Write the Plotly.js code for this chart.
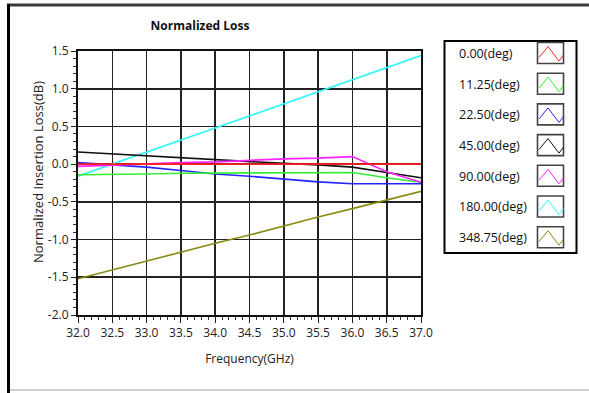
<!DOCTYPE html>
<html>
<head>
<meta charset="utf-8">
<script src="https://cdn.plot.ly/plotly-3.0.1.min.js"></script>
<style>html,body{margin:0;padding:0;background:#fff;}#chart{width:589px;height:393px;}</style>
</head>
<body>
<div id="chart"></div>
<script>
// Data
const freq = [32.0, 32.5, 33.0, 33.5, 34.0, 34.5, 35.0, 35.5, 36.0, 36.5, 37.0];
const seriesNames = ['0.00(deg)', '11.25(deg)', '22.50(deg)', '45.00(deg)', '90.00(deg)', '180.00(deg)', '348.75(deg)'];
const loss_0_00   = [0.00, 0.00, 0.00, 0.00, 0.00, 0.00, 0.00, 0.00, 0.00, 0.00, 0.00];
const loss_11_25  = [-0.14, -0.14, -0.13, -0.12, -0.12, -0.12, -0.11, -0.11, -0.11, -0.18, -0.24];
const loss_22_50  = [0.02, -0.01, -0.04, -0.085, -0.13, -0.16, -0.20, -0.235, -0.26, -0.26, -0.26];
const loss_45_00  = [0.16, 0.135, 0.11, 0.08, 0.055, 0.03, 0.01, -0.01, -0.04, -0.11, -0.18];
const loss_90_00  = [-0.03, -0.01, 0.01, 0.02, 0.03, 0.05, 0.07, 0.08, 0.10, -0.10, -0.24];
const loss_180_00 = [-0.16, 0.00, 0.16, 0.32, 0.48, 0.64, 0.80, 0.96, 1.12, 1.28, 1.44];
const loss_348_75 = [-1.52, -1.40, -1.29, -1.17, -1.05, -0.94, -0.82, -0.70, -0.59, -0.47, -0.36];
const seriesValues = [loss_0_00, loss_11_25, loss_22_50, loss_45_00, loss_90_00, loss_180_00, loss_348_75];
const seriesColors = ['#ff2020', '#33ee33', '#2424ff', '#111111', '#ff22ff', '#30f8f8', '#8a8a12'];
const xTickVals = [32.0, 32.5, 33.0, 33.5, 34.0, 34.5, 35.0, 35.5, 36.0, 36.5, 37.0];
const xTickText = ['32.0', '32.5', '33.0', '33.5', '34.0', '34.5', '35.0', '35.5', '36.0', '36.5', '37.0'];
const yTickVals = [-2.0, -1.5, -1.0, -0.5, 0.0, 0.5, 1.0, 1.5];
const yTickText = ['-2.0', '-1.5', '-1.0', '-0.5', '0.0', '0.5', '1.0', '1.5'];
const chartTitle = 'Normalized Loss';
const xTitle = 'Frequency(GHz)';
const yTitle = 'Normalized Insertion Loss(dB)';

// plot area geometry (pixels)
const W = 589, H = 393;
const L = 78, R = 421, T = 51, B = 315;
const px2x = p => (p - L) / (R - L);
const py2y = p => (B - p) / (B - T);

const FONT = 'Open Sans, Noto Sans, sans-serif';

// draw order so that red sits on top like in the reference
const drawOrder = [6, 5, 2, 1, 3, 4, 0];
const traces = drawOrder.map(i => ({
  x: freq, y: seriesValues[i], type: 'scatter', mode: 'lines',
  name: seriesNames[i], showlegend: false,
  line: {color: seriesColors[i], width: 1.6}
}));

const shapes = [];
const annotations = [];
// outer frame
shapes.push({type: 'line', xref: 'paper', yref: 'paper', x0: px2x(7), x1: px2x(589), y0: py2y(5), y1: py2y(5), line: {color: '#3a3a3a', width: 3}});
shapes.push({type: 'line', xref: 'paper', yref: 'paper', x0: px2x(8.5), x1: px2x(8.5), y0: py2y(4), y1: py2y(393), line: {color: '#000', width: 3}});
shapes.push({type: 'line', xref: 'paper', yref: 'paper', x0: px2x(10), x1: px2x(589), y0: py2y(390), y1: py2y(390), line: {color: '#d0d0d0', width: 2}});
// y axis title (placed as in the reference, slightly above plot centre)
annotations.push({xref: 'paper', yref: 'paper', x: px2x(38), y: py2y(172), xanchor: 'center', yanchor: 'middle',
  text: yTitle, textangle: -90, showarrow: false, font: {family: FONT, size: 13, color: '#222'}});
// legend box
shapes.push({type: 'rect', xref: 'paper', yref: 'paper', x0: px2x(444.5), x1: px2x(576.5), y0: py2y(41), y1: py2y(253), line: {color: '#000', width: 2}, fillcolor: 'rgba(0,0,0,0)'});
const rowTop = 42.5, rowStep = 30.7;
seriesNames.forEach((nm, i) => {
  const top = rowTop + i * rowStep;
  const cy = top + 10.5;
  annotations.push({xref: 'paper', yref: 'paper', x: px2x(457), y: py2y(cy + 0.5), xanchor: 'left', yanchor: 'middle',
    text: nm, showarrow: false, font: {family: FONT, size: 12.5, color: '#111'}});
  const bx0 = 537.5, bx1 = 563.5, by0 = top, by1 = top + 21;
  shapes.push({type: 'rect', xref: 'paper', yref: 'paper', x0: px2x(bx0), x1: px2x(bx1), y0: py2y(by0), y1: py2y(by1),
    line: {color: '#444', width: 1.6}, fillcolor: '#fff'});
  const pts = [[bx0 + 1.5, by0 + 15], [bx0 + 10.5, by0 + 4], [bx0 + 21.5, by0 + 18.5], [bx0 + 26, by0 + 12.5]];
  const path = pts.map((p, k) => (k ? 'L' : 'M') + px2x(p[0]).toFixed(5) + ',' + py2y(p[1]).toFixed(5)).join(' ');
  shapes.push({type: 'path', xref: 'paper', yref: 'paper', path: path, line: {color: seriesColors[i], width: 1}});
});

const layout = {
  width: W, height: H,
  margin: {l: L, r: W - R, t: T, b: H - B, pad: 0},
  paper_bgcolor: '#fff', plot_bgcolor: '#fff',
  showlegend: false,
  font: {family: FONT, size: 12, color: '#222'},
  title: {text: '<b>' + chartTitle + '</b>', font: {family: FONT, size: 12, color: '#111'},
    xref: 'container', yref: 'container', x: 200 / W, xanchor: 'center', y: 1 - 26 / H, yanchor: 'middle'},
  xaxis: {
    range: [32, 37], tickvals: xTickVals, ticktext: xTickText,
    showgrid: true, gridcolor: '#222', gridwidth: 1.6,
    showline: true, linecolor: '#111', linewidth: 2, mirror: true,
    ticks: 'outside', ticklen: 6, tickwidth: 1, tickcolor: '#222',
    minor: {dtick: 0.1, ticks: 'outside', ticklen: 3, tickcolor: '#333', showgrid: false},
    zeroline: false, tickfont: {family: FONT, size: 12, color: '#222'},
    title: {text: xTitle, font: {family: FONT, size: 12, color: '#222'}, standoff: 14}
  },
  yaxis: {
    range: [-2, 1.5], tickvals: yTickVals, ticktext: yTickText,
    showgrid: true, gridcolor: '#222', gridwidth: 1.6,
    showline: true, linecolor: '#111', linewidth: 2, mirror: true,
    ticks: 'outside', ticklen: 5, tickwidth: 1, tickcolor: '#222',
    minor: {dtick: 0.1, ticks: 'outside', ticklen: 3, tickcolor: '#333', showgrid: false},
    zeroline: false, tickfont: {family: FONT, size: 12, color: '#222'}
  },
  shapes: shapes,
  annotations: annotations
};

Plotly.newPlot('chart', traces, layout, {staticPlot: true, displayModeBar: false});
</script>
</body>
</html>
